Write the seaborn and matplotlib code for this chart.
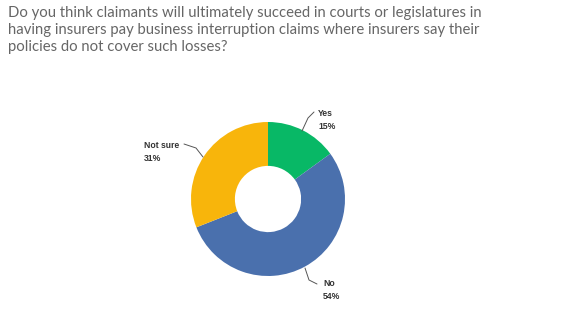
import matplotlib
matplotlib.use("Agg")
import matplotlib.pyplot as plt
import seaborn as sns

categories = ["Yes", "No", "Not sure"]
values = [15, 54, 31]
colors = ["#08B866", "#4A70AD", "#F8B50B"]
title = ("Do you think claimants will ultimately succeed in courts or legislatures in\n"
         "having insurers pay business interruption claims where insurers say their\n"
         "policies do not cover such losses?")

sns.set_theme(style="white")
plt.rcParams['font.family'] = ['Lato', 'DejaVu Sans']

W, H = 580, 323
fig = plt.figure(figsize=(W / 100, H / 100), dpi=100)
fig.text(8 / W, 1 - 6 / H, title, ha="left", va="top", fontsize=10.75,
         color="#666666", linespacing=1.28)

cx, cy, r = 268, 199, 77
ax = fig.add_axes([(cx - r) / W, (H - cy - r) / H, 2 * r / W, 2 * r / H])
ax.pie(values, colors=colors, startangle=90, counterclock=False, radius=1,
       wedgeprops=dict(width=0.57, linewidth=0))
ax.set_xlim(-1, 1)
ax.set_ylim(-1, 1)
ax.set_aspect("equal")
ax.axis("off")

def px(x, y):
    return ((x - cx) / r, (cy - y) / r)

label_pos = {"Yes": (318, 120), "No": (323, 290), "Not sure": (144, 152)}
leaders = {"Yes": [(302, 131), (308, 118), (314, 112)],
           "No": [(305, 268), (309, 280), (317, 284)],
           "Not sure": [(184, 144), (196, 148), (203, 157)]}
for cat, v in zip(categories, values):
    tx, ty = px(*label_pos[cat])
    ax.text(tx, ty, f"{cat}\n{v}%", ha="left", va="center", fontsize=6.2,
            fontweight="bold", color="#333333", linespacing=1.55, clip_on=False,
            family=["Liberation Sans", "DejaVu Sans"])
    pts = [px(*p) for p in leaders[cat]]
    ax.plot([p[0] for p in pts], [p[1] for p in pts], color="#555555", lw=0.7,
            clip_on=False)

fig.savefig("out.png", dpi=100)
